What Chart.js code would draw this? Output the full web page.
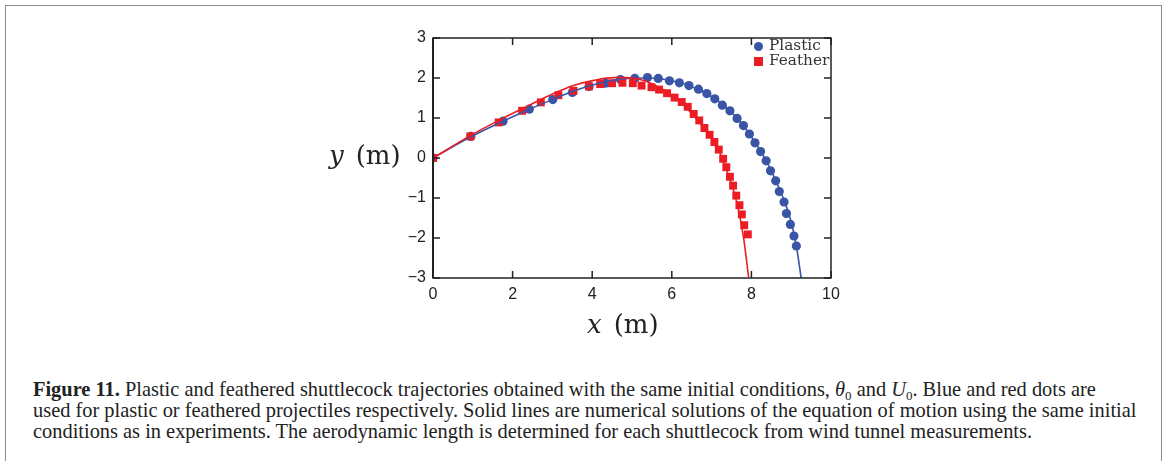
<!DOCTYPE html>
<html>
<head>
<meta charset="utf-8">
<script src="https://cdn.jsdelivr.net/npm/chart.js@4.4.1/dist/chart.umd.min.js"></script>
<style>
  html, body { margin: 0; padding: 0; background: #fff; }
  #wrap { position: relative; width: 1166px; height: 461px; overflow: hidden; background: #fff; }
  #frame { position: absolute; left: 5px; top: 5px; width: 1155px; height: 480px;
           border-left: 1.5px solid #8c8c8c; border-top: 1.5px solid #8c8c8c; border-right: 1.5px solid #8c8c8c; }
  #chart { position: absolute; left: 0; top: 0; }
  .axt { position: absolute; font-family: "DejaVu Serif", "Liberation Serif", serif; font-size: 26px; color: #222; white-space: nowrap; }
  .axt i { font-style: italic; margin-right: 12px; }
  #legend { position: absolute; left: 754px; top: 38px; font-family: "DejaVu Serif", "Liberation Serif", serif; font-size: 15.3px; color: #333; line-height: 15px; }
  #legend div { position: relative; padding-left: 15px; white-space: nowrap; }
  #legend span.mk { position: absolute; left: 0px; top: 4px; width: 9px; height: 9px; }
  #caption { position: absolute; left: 33px; top: 379px; font-family: "Liberation Serif", "DejaVu Serif", serif; font-size: 20.4px; line-height: 21px; color: #222; white-space: nowrap; }
  #caption sub { font-size: 13px; vertical-align: baseline; position: relative; top: 4px; line-height: 0; }
</style>
</head>
<body>
<div id="wrap">
  <div id="frame"></div>
  <canvas id="chart" width="1166" height="340"></canvas>
  <div class="axt" id="ytitle" style="left:329px; top:140px;"><i>y</i>(m)</div>
  <div class="axt" id="xtitle" style="left:587px; top:309px;"><i>x</i>(m)</div>
  <div id="legend"></div>
  <div id="caption"><b>Figure 11.</b> Plastic and feathered shuttlecock trajectories obtained with the same initial conditions, <i>θ</i><sub>0</sub> and <i>U</i><sub>0</sub>. Blue and red dots are<br>used for plastic or feathered projectiles respectively. Solid lines are numerical solutions of the equation of motion using the same initial<br>conditions as in experiments. The aerodynamic length is determined for each shuttlecock from wind tunnel measurements.</div>
</div>
<script>
// ---- data ----
const plasticX = [0, 0.95, 1.76, 2.42, 3.01, 3.50, 3.92, 4.33, 4.71, 5.07, 5.39, 5.66, 5.94, 6.19, 6.43, 6.67, 6.88, 7.08, 7.27, 7.46, 7.64, 7.80, 7.95, 8.09, 8.23, 8.37, 8.48, 8.61, 8.70, 8.82, 8.88, 8.98, 9.07, 9.13];
const plasticY = [0, 0.54, 0.92, 1.22, 1.46, 1.64, 1.79, 1.87, 1.96, 1.99, 2.01, 1.99, 1.93, 1.88, 1.81, 1.72, 1.61, 1.48, 1.32, 1.18, 0.99, 0.81, 0.60, 0.38, 0.16, -0.07, -0.32, -0.57, -0.84, -1.10, -1.39, -1.66, -1.95, -2.20];
const featherX = [0, 0.94, 1.65, 2.24, 2.71, 3.15, 3.53, 3.92, 4.20, 4.50, 4.76, 5.02, 5.24, 5.49, 5.68, 5.88, 6.07, 6.25, 6.40, 6.55, 6.69, 6.82, 6.95, 7.07, 7.18, 7.29, 7.37, 7.46, 7.54, 7.62, 7.70, 7.76, 7.82, 7.91];
const featherY = [0, 0.54, 0.89, 1.18, 1.39, 1.57, 1.68, 1.79, 1.85, 1.87, 1.88, 1.87, 1.81, 1.77, 1.71, 1.62, 1.51, 1.40, 1.28, 1.10, 0.94, 0.75, 0.58, 0.40, 0.21, -0.02, -0.23, -0.47, -0.69, -0.94, -1.18, -1.41, -1.68, -1.91];
const plasticModelX = [0, 0.95, 1.76, 2.42, 3.0, 3.5, 3.92, 4.4, 4.8, 5.2, 5.6, 6.0, 6.4, 6.8, 7.2, 7.6, 8.0, 8.4, 8.8, 9.0, 9.13, 9.25];
const plasticModelY = [0, 0.53, 0.92, 1.22, 1.46, 1.66, 1.80, 1.92, 1.98, 2.0, 1.99, 1.93, 1.82, 1.65, 1.40, 1.04, 0.53, -0.12, -1.0, -1.6, -2.2, -3.0];
const featherModelX = [0, 0.94, 1.69, 2.36, 3.03, 3.53, 4.04, 4.54, 4.87, 5.21, 5.54, 5.88, 6.21, 6.55, 6.88, 7.14, 7.30, 7.47, 7.64, 7.80, 7.93];
const featherModelY = [0, 0.56, 0.96, 1.29, 1.61, 1.81, 1.94, 2.01, 2.01, 1.96, 1.84, 1.65, 1.40, 1.06, 0.65, 0.28, -0.10, -0.56, -1.14, -1.97, -2.98];
const xTickLabels = ['0', '2', '4', '6', '8', '10'];
const yTickLabels = ['\u22123', '\u22122', '\u22121', '0', '1', '2', '3'];
const seriesNames = ['Plastic', 'Feather'];

const BLUE = '#3a55a6';
const RED = '#ec1c24';
const pts = (xs, ys) => xs.map((x, i) => ({x: x, y: ys[i]}));

// legend (HTML text)
const legend = document.getElementById('legend');
[[seriesNames[0], BLUE, '50%'], [seriesNames[1], RED, '0']].forEach(([n, c, r]) => {
  const d = document.createElement('div');
  const m = document.createElement('span');
  m.className = 'mk'; m.style.background = c; m.style.borderRadius = r;
  d.appendChild(m); d.appendChild(document.createTextNode(n));
  legend.appendChild(d);
});

const frameTicks = {
  id: 'frameTicks',
  afterDatasetsDraw(chart) {
    const {ctx, chartArea: a, scales} = chart;
    ctx.save();
    ctx.strokeStyle = '#222';
    ctx.lineWidth = 1.5;
    ctx.strokeRect(a.left, a.top, a.right - a.left, a.bottom - a.top);
    const L = 7;
    ctx.beginPath();
    scales.x.ticks.forEach(t => {
      const px = scales.x.getPixelForValue(t.value);
      ctx.moveTo(px, a.bottom); ctx.lineTo(px, a.bottom - L);
      ctx.moveTo(px, a.top); ctx.lineTo(px, a.top + L);
    });
    scales.y.ticks.forEach(t => {
      const py = scales.y.getPixelForValue(t.value);
      ctx.moveTo(a.left, py); ctx.lineTo(a.left + L, py);
      ctx.moveTo(a.right, py); ctx.lineTo(a.right - L, py);
    });
    ctx.stroke();
    ctx.lineWidth = 2;
    ctx.beginPath();
    ctx.moveTo(a.left, a.top); ctx.lineTo(a.left, a.bottom);
    ctx.stroke();
    ctx.restore();
  }
};

new Chart(document.getElementById('chart'), {
  type: 'scatter',
  data: {
    datasets: [
      { label: seriesNames[1] + ' model', data: pts(featherModelX, featherModelY), showLine: true, borderColor: RED, borderWidth: 1.6, pointRadius: 0, cubicInterpolationMode: 'monotone', fill: false },
      { label: seriesNames[0] + ' model', data: pts(plasticModelX, plasticModelY), showLine: true, borderColor: BLUE, borderWidth: 1.6, pointRadius: 0, cubicInterpolationMode: 'monotone', fill: false },
      { label: seriesNames[1], data: pts(featherX, featherY), pointStyle: 'rect', pointRadius: 5.6, backgroundColor: RED, borderColor: RED, borderWidth: 0, showLine: false },
      { label: seriesNames[0], data: pts(plasticX, plasticY), pointStyle: 'circle', pointRadius: 4.6, backgroundColor: BLUE, borderColor: BLUE, borderWidth: 0, showLine: false }
    ]
  },
  options: {
    responsive: false,
    animation: false,
    events: [],
    layout: { padding: { left: 393, right: 335, top: 38, bottom: 32 } },
    plugins: { legend: { display: false }, tooltip: { enabled: false } },
    scales: {
      x: {
        type: 'linear', min: 0, max: 10,
        afterFit: s => { s.height = 30; },
        ticks: { stepSize: 2, padding: 7, color: '#222', font: { family: 'Liberation Sans', size: 16 },
                 callback: (v) => xTickLabels[Math.round(v / 2)] },
        grid: { drawOnChartArea: false, drawTicks: false },
        border: { display: false }
      },
      y: {
        type: 'linear', min: -3, max: 3,
        afterFit: s => { s.width = 40; },
        ticks: { stepSize: 1, padding: 7, color: '#222', font: { family: 'Liberation Sans', size: 16 },
                 callback: (v) => yTickLabels[Math.round(v + 3)] },
        grid: { drawOnChartArea: false, drawTicks: false },
        border: { display: false }
      }
    }
  },
  plugins: [frameTicks]
});
</script>
</body>
</html>
